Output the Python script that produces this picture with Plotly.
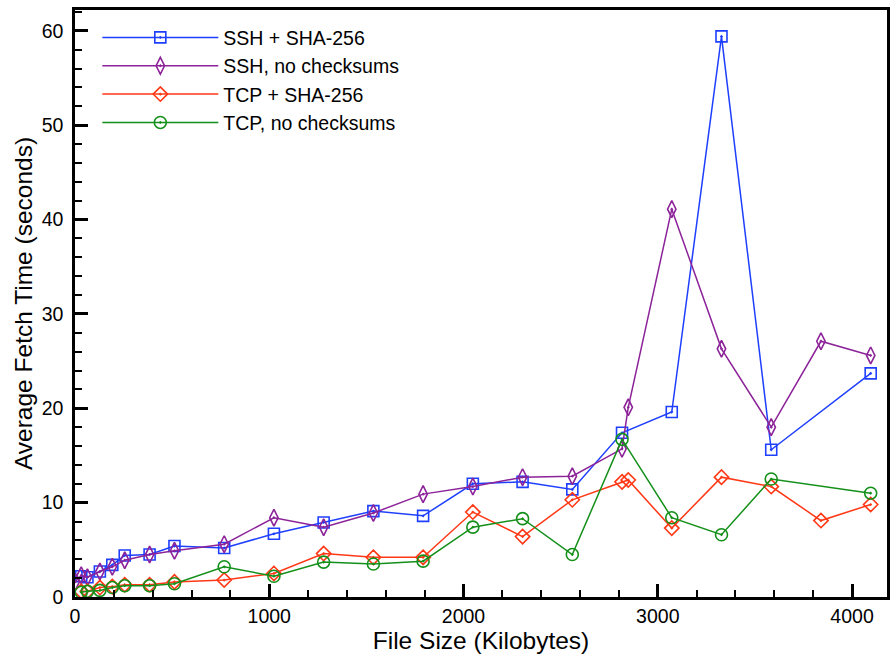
import plotly.graph_objects as go

# ---- data ----
ssh_sha_x = [32, 64, 128, 192, 256, 384, 512, 768, 1024, 1280, 1536, 1792, 2048,
             2304, 2560, 2816, 3072, 3328, 3584, 4096]
ssh_sha_y = [2.2, 2.1, 2.7, 3.4, 4.4, 4.5, 5.4, 5.2, 6.7, 7.9, 9.1, 8.6, 12.0,
             12.2, 11.4, 17.4, 19.6, 59.4, 15.6, 23.7]

ssh_none_x = [1, 32, 64, 128, 192, 256, 384, 512, 768, 1024, 1280, 1536, 1792, 2048,
              2304, 2560, 2816, 2848, 3072, 3328, 3584, 3840, 4096]
ssh_none_y = [1.6, 2.3, 2.1, 2.7, 3.2, 3.9, 4.5, 4.9, 5.6, 8.4, 7.4, 8.9, 10.9, 11.7,
              12.7, 12.8, 15.7, 20.1, 41.1, 26.3, 18.0, 27.1, 25.6]

tcp_sha_x = [32, 64, 128, 192, 256, 384, 512, 768, 1024, 1280, 1536, 1792, 2048,
             2304, 2560, 2816, 2848, 3072, 3328, 3584, 3840, 4096]
tcp_sha_y = [0.6, 0.6, 1.0, 1.1, 1.3, 1.3, 1.6, 1.8, 2.5, 4.6, 4.2, 4.2, 9.0,
             6.4, 10.3, 12.2, 12.4, 7.3, 12.7, 11.7, 8.1, 9.8]

tcp_none_x = [32, 64, 128, 192, 256, 384, 512, 768, 1024, 1280, 1536, 1792, 2048,
              2304, 2560, 2816, 3072, 3328, 3584, 4096]
tcp_none_y = [0.5, 0.6, 0.7, 1.0, 1.2, 1.2, 1.4, 3.2, 2.2, 3.7, 3.5, 3.8, 7.4,
              8.3, 4.5, 16.7, 8.4, 6.6, 12.5, 11.0]

series_names = ["SSH + SHA-256", "SSH, no checksums", "TCP + SHA-256", "TCP, no checksums"]
x_tick_vals = [0, 1000, 2000, 3000, 4000]
y_tick_vals = [0, 10, 20, 30, 40, 50, 60]

FONT = "Liberation Sans, Arial, Helvetica, sans-serif"

fig = go.Figure()

styles = [
    (ssh_sha_x, ssh_sha_y, "#1f3fff", "square-open-dot", 11),
    (ssh_none_x, ssh_none_y, "#8c2399", "diamond-tall-open-dot", 12),
    (tcp_sha_x, tcp_sha_y, "#ff3816", "diamond-open-dot", 11),
    (tcp_none_x, tcp_none_y, "#14901a", "circle-open-dot", 12),
]

for name, (xs, ys, col, sym, sz) in zip(series_names, styles):
    fig.add_trace(go.Scatter(
        x=xs, y=ys, name=name, mode="lines+markers",
        line=dict(color=col, width=1.5),
        marker=dict(symbol=sym, size=sz, color=col, line=dict(color=col, width=1.6)),
    ))

axis_common = dict(
    showline=True, linecolor="black", linewidth=2.5, mirror=True,
    ticks="inside", ticklen=13, tickwidth=2.5, tickcolor="black",
    showgrid=False, zeroline=False,
    tickfont=dict(family=FONT, size=19.5, color="black"),
)

fig.update_xaxes(
    range=[0, 4180], tickvals=x_tick_vals,
    minor=dict(dtick=200, ticks="inside", ticklen=7, tickwidth=1.5, tickcolor="black"),
    title=dict(text="File Size (Kilobytes)", font=dict(family=FONT, size=24.5, color="black"), standoff=4),
    **axis_common,
)
fig.update_yaxes(
    range=[0, 62.2], tickvals=y_tick_vals,
    minor=dict(dtick=2, ticks="inside", ticklen=7, tickwidth=1.5, tickcolor="black"),
    ticklabelstandoff=5,
    title=dict(text="Average Fetch Time (seconds)", font=dict(family=FONT, size=24.5, color="black"), standoff=3),
    **axis_common,
)

fig.update_layout(
    width=890, height=659,
    margin=dict(l=75, r=0, t=10, b=62),
    paper_bgcolor="white", plot_bgcolor="white",
    font=dict(family=FONT, color="black"),
    legend=dict(
        x=0.0275, y=0.986, xanchor="left", yanchor="top",
        bgcolor="rgba(0,0,0,0)", borderwidth=0,
        font=dict(family=FONT, size=19.5, color="black"),
        itemwidth=116,
    ),
)

fig.write_html(
    "out.html",
    config={"displayModeBar": False},
    post_script="document.body.style.margin='0';document.body.style.overflow='hidden';",
)
